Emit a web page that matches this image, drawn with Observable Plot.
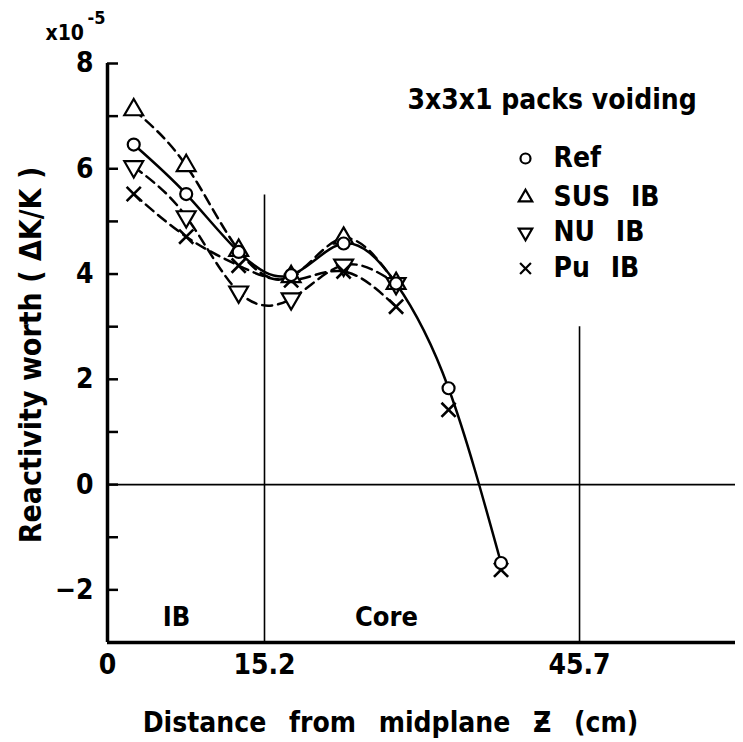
<!DOCTYPE html>
<html><head><meta charset="utf-8">
<script src="https://cdn.jsdelivr.net/npm/d3@7"></script>
<script src="https://cdn.jsdelivr.net/npm/@observablehq/plot@0.6"></script>
<style>
body{margin:0;background:#fff;}
#chart{width:743px;height:742px;}
</style></head><body><div id="chart"></div>
<script>
// Axial positions of the 3x3x1 pack centres (cm from midplane)
const zPos = [2.54, 7.62, 12.7, 17.78, 22.86, 27.94, 33.02, 38.1];
// Reactivity worth (x1e-5 dk/k)
const refVals = [6.46, 5.52, 4.42, 3.98, 4.58, 3.82, 1.83, -1.49];
const susVals = [7.12, 6.06, 4.45, 3.95, 4.68, 3.82];
const nuVals  = [6.04, 5.09, 3.66, 3.53, 4.17, 3.82];
const puVals  = [5.52, 4.71, 4.16, 3.88, 4.05, 3.38, 1.42, -1.62];
const puLineCount = 6;

const seriesNames = ["Ref", "SUS IB", "NU IB", "Pu IB"];
const xTicks = [0, 15.2, 45.7];
const xTickLabels = ["0", "15.2", "45.7"];
const yLabelTicks = [-2, 0, 2, 4, 6, 8];
const yMinorTicks = [-2, -1, 0, 1, 2, 3, 4, 5, 6, 7, 8];
const boundaries = [{z: 15.2, top: 5.5}, {z: 45.7, top: 3}];
const xDomain = [0, 60.8];
const yDomain = [-3, 8];

const toRows = (vals) => vals.map((v, i) => ({z: zPos[i], v}));
const ref = toRows(refVals), sus = toRows(susVals), nu = toRows(nuVals), pu = toRows(puVals);
const puLine = pu.slice(0, puLineCount);

const FONT = "'DejaVu Sans Condensed', 'DejaVu Sans', sans-serif";
const lw = 2.5, dash = "10,6";
const dotOpts = {x: "z", y: "v", fill: "white", stroke: "black", strokeWidth: 2.2};

const legendSym = ["circle", "triangle", "triangle", "times"];
const legendRot = [0, 0, 180, 0];
const legendDy = [95, 134, 169, 205];

const chart = Plot.plot({
  width: 743, height: 742,
  marginLeft: 107, marginRight: 8, marginTop: 63, marginBottom: 100,
  style: {fontFamily: FONT, fontStretch: "condensed", fontWeight: "bold", color: "black", background: "white"},
  x: {domain: xDomain, axis: null},
  y: {domain: yDomain, axis: null},
  marks: [
    Plot.ruleY([0], {stroke: "black", strokeWidth: 1.6}),
    Plot.ruleX(boundaries, {x: "z", y1: yDomain[0], y2: "top", stroke: "black", strokeWidth: 1.6}),
    Plot.ruleX([xDomain[0]], {stroke: "black", strokeWidth: 3.5}),
    Plot.ruleY([yDomain[0]], {stroke: "black", strokeWidth: 3.5}),
    Plot.axisY({ticks: yMinorTicks, tickSize: -11, text: null, strokeWidth: 2.5, anchor: "left"}),
    Plot.axisY({ticks: yLabelTicks, tickSize: 0, tickPadding: 14, fontSize: 28, anchor: "left", label: null}),
    Plot.axisX({ticks: xTicks, tickSize: 0, tickPadding: 12, fontSize: 28, anchor: "bottom", label: null,
      tickFormat: (d) => xTickLabels[xTicks.indexOf(d)]}),
    Plot.line(sus, {x: "z", y: "v", curve: "natural", stroke: "black", strokeWidth: lw, strokeDasharray: dash}),
    Plot.line(nu, {x: "z", y: "v", curve: "natural", stroke: "black", strokeWidth: lw, strokeDasharray: dash}),
    Plot.line(puLine, {x: "z", y: "v", curve: "natural", stroke: "black", strokeWidth: lw, strokeDasharray: dash}),
    Plot.line(ref, {x: "z", y: "v", curve: "natural", stroke: "black", strokeWidth: lw}),
    Plot.dot(sus, {...dotOpts, symbol: "triangle", r: 7}),
    Plot.dot(nu, {...dotOpts, symbol: "triangle", rotate: 180, r: 7}),
    Plot.dot(pu, {...dotOpts, symbol: "times", r: 6.5, strokeWidth: 2.6}),
    Plot.dot(ref, {...dotOpts, symbol: "circle", r: 6}),
    // legend
    Plot.text(["3x3x1 packs voiding"], {frameAnchor: "top-left", dx: 300, dy: 37, fontSize: 28, textAnchor: "start", lineAnchor: "middle"}),
    ...seriesNames.map((name, i) => Plot.dot([name], {frameAnchor: "top-left", dx: 418, dy: legendDy[i],
      symbol: legendSym[i], rotate: legendRot[i], r: 5, stroke: "black", strokeWidth: 2.2, fill: "white"})),
    ...seriesNames.map((name, i) => Plot.text([name], {frameAnchor: "top-left", dx: 446, dy: legendDy[i],
      fontSize: 28, textAnchor: "start", lineAnchor: "middle", className: "legend-label"})),
    // axis titles
    Plot.text(["Reactivity worth ( \u0394K/K )"], {frameAnchor: "left", dx: -76, dy: 2, rotate: -90, fontSize: 30, textAnchor: "middle", lineAnchor: "middle"}),
    Plot.text(["Distance from midplane \u01B5 (cm)"], {frameAnchor: "bottom", dx: -31, dy: 81, fontSize: 28, textAnchor: "middle", lineAnchor: "middle", className: "x-title"}),
    Plot.text(["x10"], {frameAnchor: "top-left", dx: -62, dy: -30, fontSize: 21, textAnchor: "start", lineAnchor: "middle"}),
    Plot.text(["-5"], {frameAnchor: "top-left", dx: -20, dy: -45, fontSize: 18, textAnchor: "start", lineAnchor: "middle"}),
    // region labels
    Plot.text(["IB"], {frameAnchor: "bottom-left", dx: 69, dy: -25, fontSize: 27, textAnchor: "middle", lineAnchor: "middle"}),
    Plot.text(["Core"], {frameAnchor: "bottom-left", dx: 279, dy: -25, fontSize: 27, textAnchor: "middle", lineAnchor: "middle"})
  ]
});
d3.select(chart).selectAll(".x-title text").style("word-spacing", "14px");
d3.select(chart).selectAll(".legend-label text").style("word-spacing", "12px");
document.getElementById("chart").append(chart);
</script></body></html>
